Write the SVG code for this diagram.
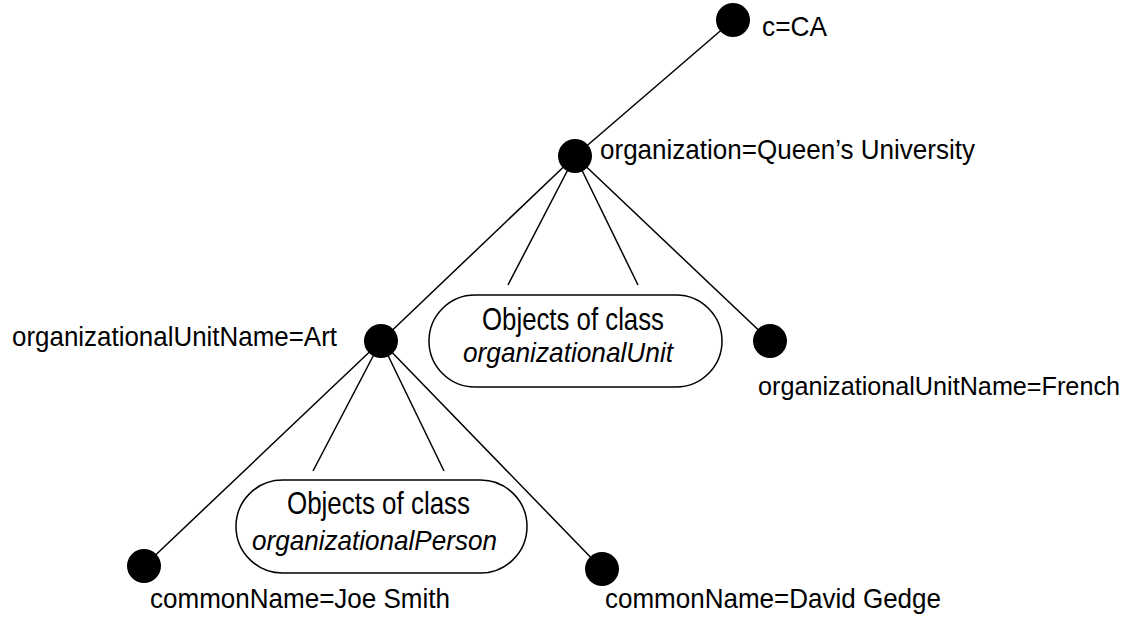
<svg xmlns="http://www.w3.org/2000/svg" width="1140" height="619" viewBox="0 0 1140 619">
  <style>
    .edge { stroke: #000; stroke-width: 1.5; fill: none; }
    .node { fill: #000; }
    .box { fill: #fff; stroke: #000; stroke-width: 1.5; }
    .label { font-family: "Liberation Sans", Arial, sans-serif; font-size: 27.5px; fill: #000; }
    .label.fit { font-size: 25px; }
    .head { font-family: "Liberation Sans", Arial, sans-serif; font-size: 32px; fill: #000; }
    .cls { font-family: "Liberation Sans", Arial, sans-serif; font-size: 27.5px; font-style: italic; fill: #000; }
  </style>
  <rect width="1140" height="619" fill="#fff"/>

  <!-- tree edges -->
  <g id="connectors">
    <line class="edge" x1="733" y1="20" x2="575" y2="156"/>
    <line class="edge" x1="575" y1="156" x2="381" y2="341"/>
    <line class="edge" x1="575" y1="156" x2="508" y2="285"/>
    <line class="edge" x1="575" y1="156" x2="638" y2="285"/>
    <line class="edge" x1="575" y1="156" x2="770" y2="341"/>
    <line class="edge" x1="381" y1="341" x2="144" y2="566"/>
    <line class="edge" x1="381" y1="341" x2="313" y2="471"/>
    <line class="edge" x1="381" y1="341" x2="444" y2="471"/>
    <line class="edge" x1="381" y1="341" x2="602" y2="569"/>
  </g>

  <g id="node-country">
    <circle class="node" cx="733" cy="20" r="17"/>
    <text class="label" x="762" y="36" textLength="65" lengthAdjust="spacingAndGlyphs">c=CA</text>
  </g>

  <g id="node-organization">
    <circle class="node" cx="575" cy="156" r="17"/>
    <text class="label" x="600" y="159" textLength="375" lengthAdjust="spacingAndGlyphs">organization=Queen’s University</text>
  </g>

  <g id="node-unit-art">
    <circle class="node" cx="381" cy="341" r="17"/>
    <text class="label" x="12" y="346" textLength="325" lengthAdjust="spacingAndGlyphs">organizationalUnitName=Art</text>
  </g>

  <g id="group-units">
    <rect class="box" x="429" y="295" width="293" height="92" rx="46" ry="46"/>
    <text class="head" x="482" y="330" textLength="182" lengthAdjust="spacingAndGlyphs">Objects of class</text>
    <text class="cls" x="463" y="362" textLength="210" lengthAdjust="spacingAndGlyphs">organizationalUnit</text>
  </g>

  <g id="node-unit-french">
    <circle class="node" cx="770" cy="341" r="17"/>
    <text class="label fit" x="758" y="395" textLength="362" lengthAdjust="spacingAndGlyphs">organizationalUnitName=French</text>
  </g>

  <g id="node-joe">
    <circle class="node" cx="144" cy="566" r="17"/>
    <text class="label" x="150" y="608" textLength="300" lengthAdjust="spacingAndGlyphs">commonName=Joe Smith</text>
  </g>

  <g id="group-persons">
    <rect class="box" x="236" y="480" width="291" height="93" rx="46.5" ry="46.5"/>
    <text class="head" x="287" y="514" textLength="183" lengthAdjust="spacingAndGlyphs">Objects of class</text>
    <text class="cls" x="252" y="550" textLength="245" lengthAdjust="spacingAndGlyphs">organizationalPerson</text>
  </g>

  <g id="node-david">
    <circle class="node" cx="602" cy="569" r="17"/>
    <text class="label" x="605" y="608" textLength="336" lengthAdjust="spacingAndGlyphs">commonName=David Gedge</text>
  </g>
</svg>
